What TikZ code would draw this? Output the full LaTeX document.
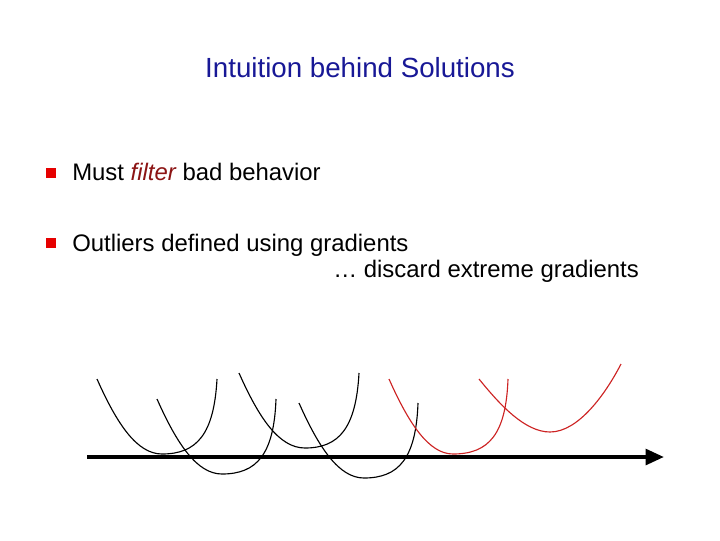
\documentclass[tikz,border=0pt]{standalone}
\usepackage{fontspec}
\setmainfont{Liberation Sans}
\usetikzlibrary{arrows.meta}

\definecolor{titleblue}{RGB}{24,24,150}
\definecolor{filterred}{RGB}{140,20,20}
\definecolor{bulletred}{RGB}{230,0,0}
\definecolor{curvered}{RGB}{205,35,35}

\tikzset{
  bowl/.style={line width=0.8pt},
  bulletbox/.style={fill=bulletred, minimum size=6.8pt, inner sep=0pt},
  itemtext/.style={anchor=base west, inner sep=0pt, font=\fontsize{17}{20}\selectfont}
}

\begin{document}
\begin{tikzpicture}[x=0.025cm,y=-0.025cm]
      \useasboundingbox[fill=white] (0,0) rectangle (720,540);
      \node[anchor=base, inner sep=0pt, text=titleblue, font=\fontsize{19.7}{24}\selectfont] (title) at (360,77) {Intuition behind Solutions};
      \node[bulletbox] (bul1) at (51,173) {};
      \node[itemtext] (item1) at (72,180) {Must \textcolor{filterred}{\itshape filter} bad behavior};
      \node[bulletbox] (bul2) at (51,243) {};
      \node[itemtext] (item2) at (72,251) {Outliers defined using gradients};
      \node[itemtext] (item3) at (333,277) {\ldots{} discard extreme gradients};
      % black loss curves
      \draw[bowl] (97,379) .. controls (117,424) and (137,454) .. (162,454) .. controls (197,454) and (214,434) .. (217,379);
      \draw[bowl] (157,399) .. controls (177,444) and (197,474) .. (222,474) .. controls (257,474) and (274,454) .. (276,399);
      \draw[bowl] (239,373) .. controls (259,418) and (279,448) .. (305,448) .. controls (339,448) and (356,428) .. (359,373);
      \draw[bowl] (299,403) .. controls (319,448) and (339,478) .. (364,478) .. controls (399,478) and (416,458) .. (418,403);
      % extreme ones
      \draw[bowl, curvered] (389,379) .. controls (409,424) and (429,454) .. (453,454) .. controls (489,454) and (506,434) .. (508,379);
      \draw[bowl, curvered] (479,379) .. controls (500,405) and (525,432) .. (550,432) .. controls (578,432) and (605,395) .. (621,364);
      \coordinate (axstart) at (87,457);
      \coordinate (axend) at (664,457);
      \draw[line width=2.8pt, -{Triangle[length=13pt,width=11pt]}] (axstart) -- (axend);
\end{tikzpicture}
\end{document}
